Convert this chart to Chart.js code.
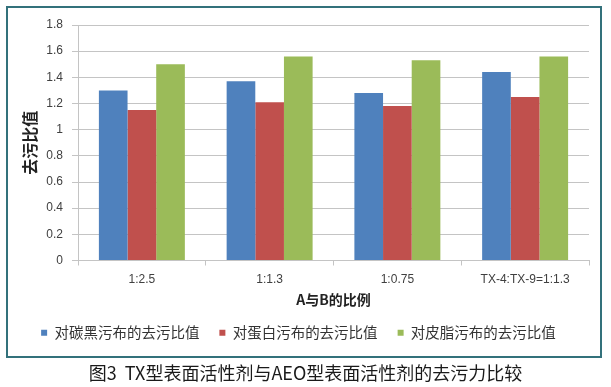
<!DOCTYPE html>
<html>
<head>
<meta charset="utf-8">
<script src="https://cdn.jsdelivr.net/npm/chart.js@4/dist/chart.umd.min.js"></script>
<style>
  body { margin: 0; background: #fff; width: 611px; height: 387px; position: relative; overflow: hidden; }
  #frame { position: absolute; left: 6px; top: 6px; width: 592px; height: 348px; border: 2px solid #33717b; }
  #wrap { position: absolute; left: 8px; top: 8px; width: 592px; height: 360px; }
  #caption { position: absolute; left: 0; width: 611px; top: 359px; text-align: center;
    font: 18px "Noto Sans CJK SC", sans-serif; color: #1a1a1a; white-space: pre; }
</style>
</head>
<body>
<div id="frame"></div>
<div id="wrap"><canvas id="chart" width="592" height="360"></canvas></div>
<div id="caption">图3  TX型表面活性剂与AEO型表面活性剂的去污力比较</div>
<script>
const categories = ['1:2.5', '1:1.3', '1:0.75', 'TX-4:TX-9=1:1.3'];
const seriesNames = ['对碳黑污布的去污比值', '对蛋白污布的去污比值', '对皮脂污布的去污比值'];
const carbonBlack = [1.30, 1.37, 1.28, 1.44];
const protein = [1.15, 1.21, 1.18, 1.25];
const sebum = [1.50, 1.56, 1.53, 1.56];
const yTicks = [0, 0.2, 0.4, 0.6, 0.8, 1, 1.2, 1.4, 1.6, 1.8];

const colors = ['#4f81bd', '#c0504d', '#9bbb59'];
const gridColor = '#c4c4c4';
const cjk = '"Noto Sans CJK SC", sans-serif';
const latin = '"Liberation Sans", Arial, sans-serif';

const canvas = document.getElementById('chart');

new Chart(canvas, {
  type: 'bar',
  data: {
    labels: categories,
    datasets: [carbonBlack, protein, sebum].map((vals, i) => ({
      label: seriesNames[i],
      data: vals,
      backgroundColor: colors[i],
      borderWidth: 0,
      categoryPercentage: 0.673,
      barPercentage: 1
    }))
  },
  options: {
    responsive: false,
    animation: false,
    devicePixelRatio: 1,
    layout: { padding: { top: 17, right: 11, bottom: 18, left: 0 } },
    plugins: {
      tooltip: { enabled: false },
      legend: {
        position: 'bottom',
        labels: {
          boxWidth: 6,
          boxHeight: 6,
          padding: 20,
          color: '#333',
          font: { family: cjk, size: 14.5 }
        }
      }
    },
    scales: {
      x: {
        grid: { display: true, drawOnChartArea: false, offset: true, tickLength: 5, color: gridColor },
        border: { display: true, color: gridColor },
        ticks: { color: '#404040', padding: 7, font: { family: latin, size: 12 } },
        title: {
          display: true,
          text: 'A与B的比例',
          color: '#222',
          padding: { top: -3, bottom: -3 },
          font: { family: cjk, size: 14, weight: 'bold' }
        },
        afterFit: (scale) => { scale.height = 45; }
      },
      y: {
        min: 0,
        max: 1.8,
        afterBuildTicks: (scale) => { scale.ticks = yTicks.map(v => ({ value: v })); },
        grid: { color: gridColor, tickLength: 6 },
        border: { display: true, color: gridColor },
        ticks: {
          color: '#404040',
          padding: 9,
          font: { family: latin, size: 12 },
          callback: (v) => String(Number(v.toFixed(1)))
        },
        title: {
          display: true,
          text: '去污比值',
          color: '#222',
          padding: { top: 12, bottom: 0 },
          font: { family: cjk, size: 16, weight: 'bold' }
        },
        afterFit: (scale) => { scale.width = 70; }
      }
    }
  }
});
</script>
</body>
</html>
